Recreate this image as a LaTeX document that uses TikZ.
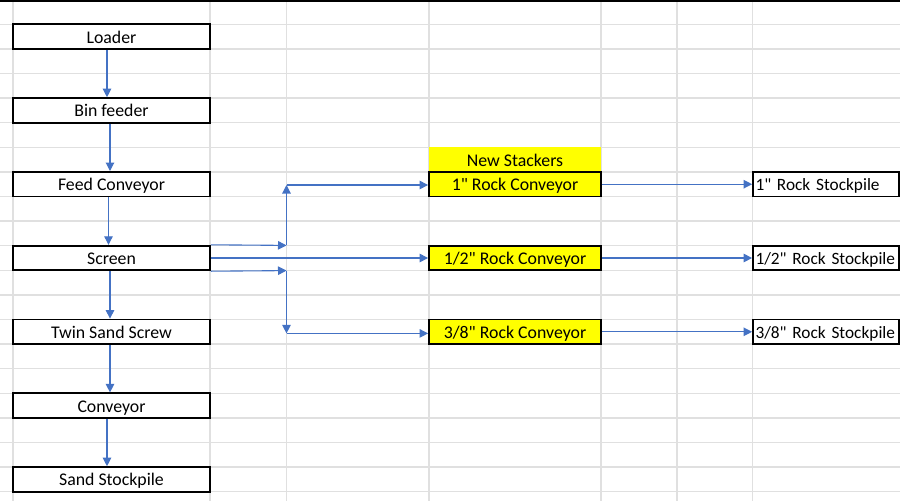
\documentclass[tikz,border=0pt]{standalone}
\usepackage{fontspec}
\setmainfont{Carlito}[Ligatures=TeXOff]
\usetikzlibrary{arrows.meta,calc}
\definecolor{gridgray}{HTML}{E0E0E0}
\definecolor{flowblue}{HTML}{4472C4}
\definecolor{stackyellow}{HTML}{FFFF00}
\begin{document}
\begin{tikzpicture}[x=1pt,y=-1pt,
  gridline/.style={draw=gridgray,line width=1.3pt},
  cellbox/.style={draw=black,line width=1.8pt,minimum height=24.6pt,inner sep=0pt,
    text height=13pt,text depth=0pt,font=\fontsize{17.8}{20}\selectfont,text=black},
  flowbox/.style={cellbox,minimum width=197pt},
  stackbox/.style={cellbox,minimum width=172pt,fill=stackyellow},
  pilebox/.style={cellbox,inner xsep=2.5pt,text width=141pt,align=left,
    font=\fontsize{17.3}{20}\selectfont},
  flow/.style={draw=flowblue,line width=1.1pt,-{Triangle[length=8.5pt,width=8.5pt]}}]

\useasboundingbox (0,0) rectangle (900,501);
\fill[white] (0,0) rectangle (900,501);

% spreadsheet grid
\foreach \k in {0,...,19}
  \draw[gridline] (0,{24.3+24.6*\k}) -- (900,{24.3+24.6*\k});
\foreach \x in {13,210,286.5,429,601,677,752.5}
  \draw[gridline] (\x,0) -- (\x,501);
\draw[black,line width=1.6pt] (0,1.2) -- (900,1.2);

% main flow column
\node[flowbox] (loader) at (111.5,36.6) {Loader};
\node[flowbox] (bin)    at (111.5,110.4) {Bin feeder};
\node[flowbox] (feed)   at (111.5,184.2) {Feed Conveyor};
\node[flowbox] (screen) at (111.5,258.0) {Screen};
\node[flowbox] (twin)   at (111.5,331.8) {Twin Sand Screw};
\node[flowbox] (conv)   at (111.5,405.6) {Conveyor};
\node[flowbox] (sand)   at (111.5,479.4) {Sand Stockpile};

% stackers
\node[cellbox,draw=none,minimum width=172pt,fill=stackyellow] (newst) at (515,159.6) {New Stackers};
\node[stackbox] (r1) at (515,184.2) {1" Rock Conveyor};
\node[stackbox] (r2) at (515,258.0) {1/2" Rock Conveyor};
\node[stackbox] (r3) at (515,331.8) {3/8" Rock Conveyor};

% stockpiles
\node[pilebox] (p1) at (826,184.2) {\mbox{1" Rock Stockpile}};
\node[pilebox] (p2) at (826,258.0) {\mbox{1/2" Rock Stockpile}};
\node[pilebox] (p3) at (826,331.8) {\mbox{3/8" Rock Stockpile}};

% vertical flow arrows
\draw[flow] ([xshift=-4.5pt]loader.south) -- ([xshift=-4.5pt]bin.north);
\draw[flow] ([xshift=-1.5pt]bin.south) -- ([xshift=-1.5pt]feed.north);
\draw[flow] ([xshift=-3pt]feed.south) -- ([xshift=-3pt]screen.north);
\draw[flow] ([xshift=-1.5pt]screen.south) -- ([xshift=-1.5pt]twin.north);
\draw[flow] ([xshift=-1.5pt]twin.south) -- ([xshift=-1.5pt]conv.north);
\draw[flow] ([xshift=-4.5pt]conv.south) -- ([xshift=-4.5pt]sand.north);

% screen outputs
\coordinate (ja) at (286.5,245.4);
\coordinate (jb) at (286.5,185.0);
\coordinate (jc) at (286.5,270.6);
\coordinate (jd) at (286.5,333.4);
\draw[flow] (screen.north east) -- (ja);
\draw[flow] (ja) -- (jb);
\draw[flow] (jb) -- (jb -| r1.west);
\draw[flow] (screen.east) -- (r2.west);
\draw[flow] (screen.south east) -- (jc);
\draw[flow] (jc) -- (jd);
\draw[flow] (jd) -- (jd -| r3.west);

% stackers to stockpiles
\draw[flow] (r1.east) -- (p1.west);
\draw[flow] (r2.east) -- (p2.west);
\draw[flow] (r3.east) -- (p3.west);
\end{tikzpicture}
\end{document}
